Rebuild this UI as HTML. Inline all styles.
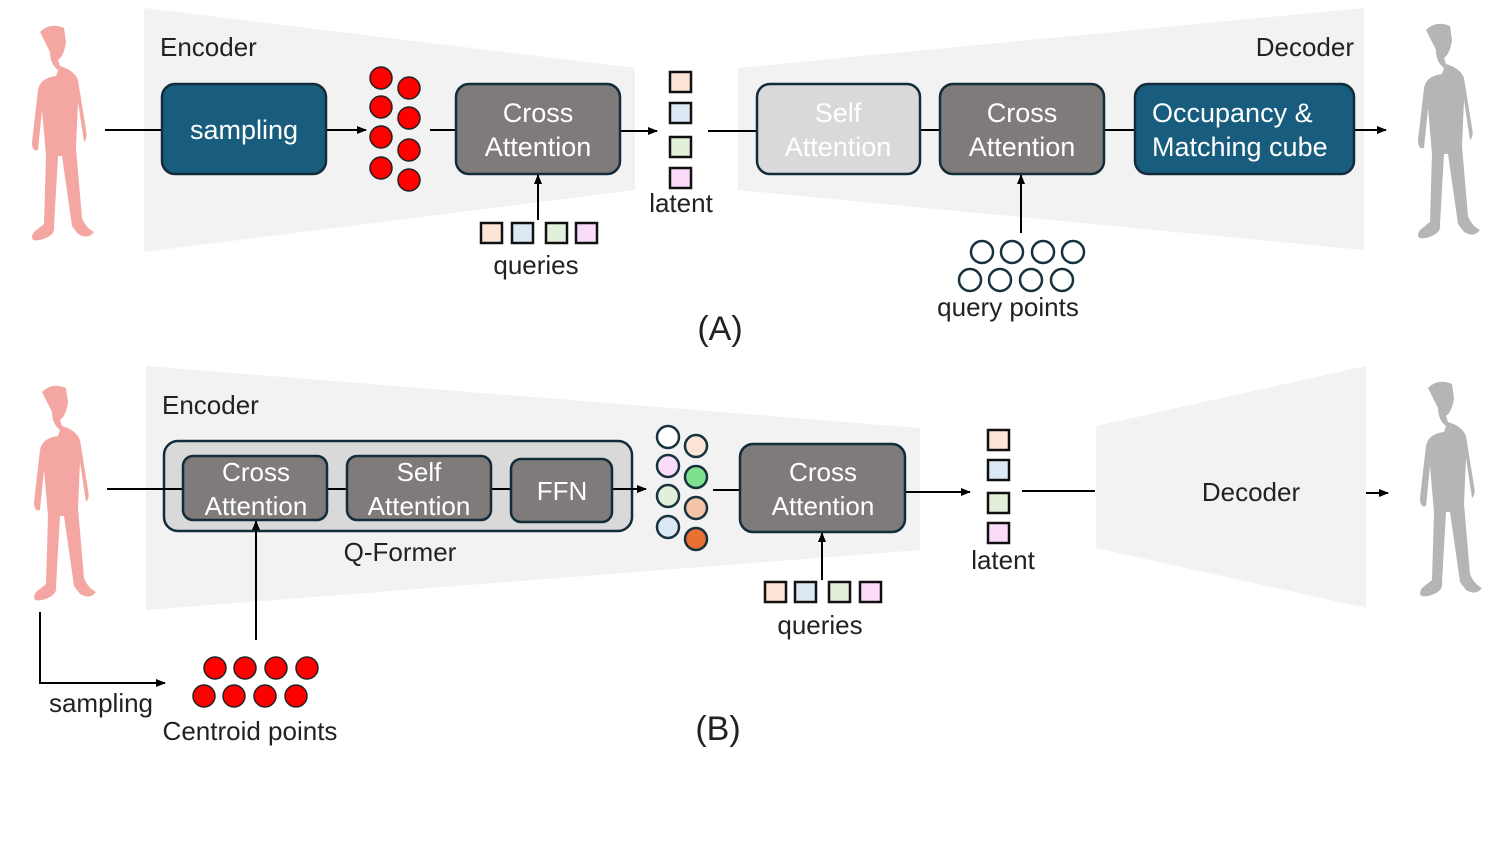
<!DOCTYPE html>
<html><head><style>body{margin:0;background:#fff}svg{display:block}text{font-family:"Liberation Sans",sans-serif}</style></head><body>
<svg width="1495" height="841" viewBox="0 0 1495 841" xmlns="http://www.w3.org/2000/svg">
<defs>
<marker id="a" markerWidth="10" markerHeight="10" refX="9" refY="5" orient="auto" markerUnits="userSpaceOnUse"><path d="M0,1 L10,5 L0,9 z" fill="#000"/></marker>
<g id="man">
<path d="M30,10 q10,-10 24,-4 l2,14 q-2,14 -8,18 l2,6 q14,4 18,14 l8,50 q2,8 -2,12 l-6,-40 l-2,46 l6,70 q4,10 12,14 q-6,8 -16,2 l-6,-8 l-10,-70 l-4,0 l-4,70 q2,10 -14,14 q-12,2 -6,-8 l10,-8 l2,-68 l-4,-46 l-4,40 q-6,2 -6,-8 l6,-52 q2,-12 18,-14 l2,-6 q-8,-6 -8,-18z"/>
</g>
</defs>
<!-- top -->
<polygon points="144,8 635,68 635,190 144,252" fill="#f2f2f2"/>
<polygon points="738,68 1364,8 1364,250 738,190" fill="#f2f2f2"/>
<use href="#man" x="10" y="22" fill="#f4a7a2"/>
<use href="#man" x="1396" y="20" fill="#b5b5b5"/>
<text x="160" y="56" font-size="26" fill="#222">Encoder</text>
<text x="1354" y="56" font-size="26" fill="#222" text-anchor="end">Decoder</text>
<g stroke="#000" stroke-width="2" fill="none">
<line x1="105" y1="130" x2="162" y2="130"/>
<line x1="326" y1="130" x2="366" y2="130" marker-end="url(#a)"/>
<line x1="430" y1="130" x2="456" y2="130"/>
<line x1="620" y1="131" x2="657" y2="131" marker-end="url(#a)"/>
<line x1="708" y1="131" x2="757" y2="131"/>
<line x1="920" y1="130" x2="940" y2="130"/>
<line x1="1104" y1="130" x2="1135" y2="130"/>
<line x1="1354" y1="130" x2="1386" y2="130" marker-end="url(#a)"/>
<line x1="538" y1="220" x2="538" y2="175" marker-end="url(#a)"/>
<line x1="1021" y1="233" x2="1021" y2="175" marker-end="url(#a)"/>
</g>
<g stroke="#132c3a" stroke-width="2.5">
<rect x="162" y="84" width="164" height="90" rx="13" fill="#185c7e"/>
<rect x="456" y="84" width="164" height="90" rx="13" fill="#7f7b7a"/>
<rect x="757" y="84" width="163" height="90" rx="13" fill="#d9d9d9"/>
<rect x="940" y="84" width="164" height="90" rx="13" fill="#7f7b7a"/>
<rect x="1135" y="84" width="219" height="90" rx="13" fill="#185c7e"/>
</g>
<g font-size="27" fill="#fff" text-anchor="middle">
<text x="244" y="139">sampling</text>
<text x="538" y="122">Cross</text><text x="538" y="156">Attention</text>
<text x="838" y="122">Self</text><text x="838" y="156">Attention</text>
<text x="1022" y="122">Cross</text><text x="1022" y="156">Attention</text>
<text x="1152" y="122" text-anchor="start">Occupancy &amp;</text><text x="1152" y="156" text-anchor="start">Matching cube</text>
</g>
<g fill="#ff0000" stroke="#222" stroke-width="1.5">
<circle cx="381" cy="78" r="11"/><circle cx="381" cy="107" r="11"/><circle cx="381" cy="137" r="11"/><circle cx="381" cy="168" r="11"/>
<circle cx="409" cy="88" r="11"/><circle cx="409" cy="118" r="11"/><circle cx="409" cy="150" r="11"/><circle cx="409" cy="180" r="11"/>
</g>
<g stroke="#111" stroke-width="2.5">
<rect x="670" y="72" width="21" height="20" fill="#fce4d6"/><rect x="670" y="103" width="21" height="20" fill="#dde8f5"/><rect x="670" y="137" width="21" height="20" fill="#e2efda"/><rect x="670" y="168" width="21" height="20" fill="#fadcfa"/>
<rect x="481" y="223" width="21" height="20" fill="#fce4d6"/><rect x="512" y="223" width="21" height="20" fill="#dde8f5"/><rect x="546" y="223" width="21" height="20" fill="#e2efda"/><rect x="576" y="223" width="21" height="20" fill="#fadcfa"/>
</g>
<g fill="#fff" stroke="#17323f" stroke-width="2.5">
<circle cx="982" cy="252" r="11"/><circle cx="1012" cy="252" r="11"/><circle cx="1043" cy="252" r="11"/><circle cx="1073" cy="252" r="11"/>
<circle cx="970" cy="280" r="11"/><circle cx="1000" cy="280" r="11"/><circle cx="1031" cy="280" r="11"/><circle cx="1062" cy="280" r="11"/>
</g>
<g font-size="26" fill="#222" text-anchor="middle">
<text x="681" y="212">latent</text>
<text x="536" y="274">queries</text>
<text x="1008" y="316">query points</text>
<text x="720" y="340" font-size="34">(A)</text>
</g>
<!-- bottom -->
<polygon points="146,366 920,428 920,550 146,610" fill="#f2f2f2"/>
<polygon points="1096,426 1366,366 1366,608 1096,548" fill="#f2f2f2"/>
<use href="#man" x="12" y="382" fill="#f4a7a2"/>
<use href="#man" x="1398" y="378" fill="#b5b5b5"/>
<text x="162" y="414" font-size="26" fill="#222">Encoder</text>
<rect x="164" y="441" width="468" height="90" rx="14" fill="#d9d9d9" stroke="#132c3a" stroke-width="2.5"/>
<g stroke="#000" stroke-width="2" fill="none">
<line x1="107" y1="489" x2="183" y2="489"/>
<line x1="327" y1="489" x2="347" y2="489"/>
<line x1="491" y1="489" x2="511" y2="489"/>
<line x1="612" y1="489" x2="646" y2="489" marker-end="url(#a)"/>
<line x1="713" y1="490" x2="740" y2="490"/>
<line x1="905" y1="492" x2="970" y2="492" marker-end="url(#a)"/>
<line x1="1022" y1="491" x2="1095" y2="491"/>
<line x1="1366" y1="493" x2="1388" y2="493" marker-end="url(#a)"/>
<line x1="822" y1="580" x2="822" y2="533" marker-end="url(#a)"/>
<line x1="256" y1="640" x2="256" y2="521" marker-end="url(#a)"/>
<polyline points="40,612 40,683 165,683" marker-end="url(#a)"/>
</g>
<g stroke="#132c3a" stroke-width="2.5" fill="#7f7b7a">
<rect x="183" y="456" width="144" height="64" rx="10"/>
<rect x="347" y="456" width="144" height="64" rx="10"/>
<rect x="511" y="459" width="101" height="63" rx="10"/>
<rect x="740" y="444" width="165" height="88" rx="13"/>
</g>
<g font-size="26" fill="#fff" text-anchor="middle">
<text x="256" y="481">Cross</text><text x="256" y="515">Attention</text>
<text x="419" y="481">Self</text><text x="419" y="515">Attention</text>
<text x="562" y="500">FFN</text>
<text x="823" y="481">Cross</text><text x="823" y="515">Attention</text>
</g>
<g stroke="#17323f" stroke-width="2.5">
<circle cx="668" cy="437" r="11" fill="#fff"/><circle cx="668" cy="466" r="11" fill="#fadcfa"/><circle cx="668" cy="496" r="11" fill="#e2efda"/><circle cx="668" cy="527" r="11" fill="#dde8f5"/>
<circle cx="696" cy="446" r="11" fill="#fce4d6"/><circle cx="696" cy="477" r="11" fill="#7fe08f"/><circle cx="696" cy="508" r="11" fill="#f4c3a5"/><circle cx="696" cy="539" r="11" fill="#ea7031"/>
</g>
<g stroke="#111" stroke-width="2.5">
<rect x="988" y="430" width="21" height="20" fill="#fce4d6"/><rect x="988" y="460" width="21" height="20" fill="#dde8f5"/><rect x="988" y="493" width="21" height="20" fill="#e2efda"/><rect x="988" y="523" width="21" height="20" fill="#fadcfa"/>
<rect x="765" y="582" width="21" height="20" fill="#fce4d6"/><rect x="795" y="582" width="21" height="20" fill="#dde8f5"/><rect x="829" y="582" width="21" height="20" fill="#e2efda"/><rect x="860" y="582" width="21" height="20" fill="#fadcfa"/>
</g>
<g fill="#ff0000" stroke="#222" stroke-width="1.5">
<circle cx="215" cy="668" r="11"/><circle cx="245" cy="668" r="11"/><circle cx="276" cy="668" r="11"/><circle cx="307" cy="668" r="11"/>
<circle cx="204" cy="696" r="11"/><circle cx="234" cy="696" r="11"/><circle cx="265" cy="696" r="11"/><circle cx="296" cy="696" r="11"/>
</g>
<g font-size="26" fill="#222" text-anchor="middle">
<text x="400" y="561">Q-Former</text>
<text x="1003" y="569">latent</text>
<text x="1251" y="501">Decoder</text>
<text x="820" y="634">queries</text>
<text x="101" y="712">sampling</text>
<text x="250" y="740">Centroid points</text>
<text x="718" y="740" font-size="34">(B)</text>
</g>
</svg>
</body></html>
